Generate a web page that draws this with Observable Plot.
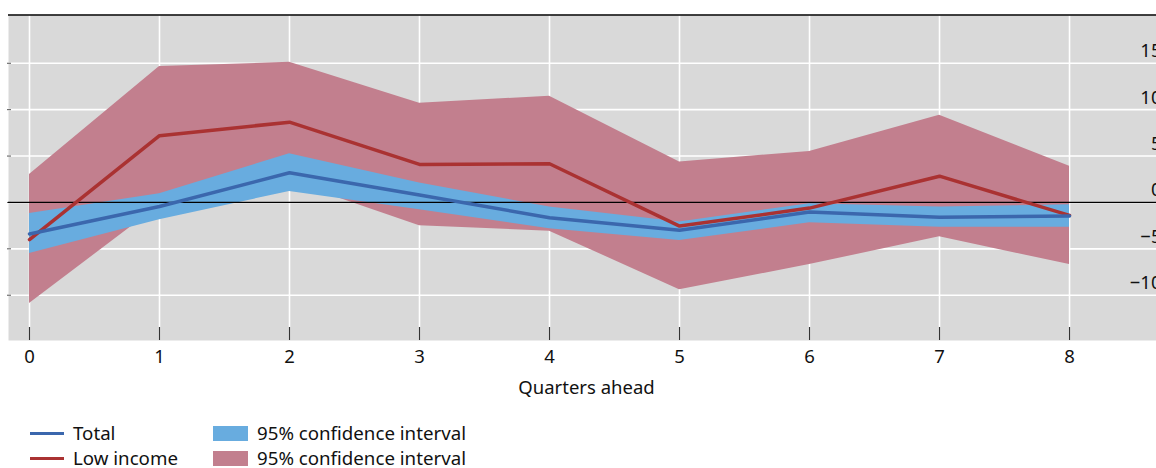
<!DOCTYPE html>
<html>
<head>
<meta charset="utf-8">
<script src="https://cdn.jsdelivr.net/npm/d3@7"></script>
<script src="https://cdn.jsdelivr.net/npm/@observablehq/plot@0.6"></script>
<style>
  html, body { margin: 0; padding: 0; background: #fff; overflow: hidden; }
  body { width: 1156px; height: 468px; font-family: "Noto Sans", "Open Sans", sans-serif; color: #111; }
  #chart svg { display: block; overflow: visible; }
  .legend { position: relative; padding-top: 9px; font-size: 18.7px; line-height: 1; }
  .legend .row { display: flex; align-items: center; height: 25px; }
  .legend .item { display: flex; align-items: center; }
  .legend .line { width: 34px; height: 3px; margin-left: 30px; margin-right: 9px; }
  .legend .box { width: 35px; height: 15px; margin-right: 9px; }
  .legend .col1 { width: 213px; }
</style>
</head>
<body>
<div id="chart"></div>
<div class="legend" id="legend"></div>
<script>
// Quarters ahead of the shock
const quarters = [0, 1, 2, 3, 4, 5, 6, 7, 8];

// Total: point estimate and 95% confidence band
const totalMid = [-3.4, -0.43, 3.2, 0.8, -1.65, -3.0, -1.04, -1.6, -1.45];
const totalLo  = [-5.5, -1.87, 1.18, -0.8, -2.84, -4.1, -2.2, -2.66, -2.66];
const totalHi  = [-1.2, 0.94, 5.25, 2.1, -0.5, -2.1, -0.14, -0.5, -0.25];

// Low income: point estimate and 95% confidence band
const lowMid = [-4.0, 7.2, 8.65, 4.1, 4.17, -2.55, -0.61, 2.83, -1.4];
const lowLo  = [-10.9, -0.3, 2.3, -2.5, -3.1, -9.4, -6.7, -3.7, -6.7];
const lowHi  = [3.0, 14.65, 15.1, 10.7, 11.45, 4.35, 5.5, 9.4, 3.9];

const yTicks = [-10, -5, 0, 5, 10, 15];
const xLabel = "Quarters ahead";

const colors = {
  totalLine: "#3b67ad",
  totalBand: "#68acdf",
  lowLine: "#aa3232",
  lowBand: "#c27f8e",
  panel: "#d9d9d9"
};

const total = quarters.map((q, i) => ({q, mid: totalMid[i], lo: totalLo[i], hi: totalHi[i]}));
const low = quarters.map((q, i) => ({q, mid: lowMid[i], lo: lowLo[i], hi: lowHi[i]}));

const yDomain = [-14.88, 20.15];
const fontFamily = '"Noto Sans", "Open Sans", sans-serif';

const chart = Plot.plot({
  width: 1156,
  height: 412,
  marginTop: 15,
  marginBottom: 72,
  marginLeft: 8,
  marginRight: 0,
  style: {fontFamily, fontSize: "18.5px", color: "#111", background: "transparent"},
  x: {domain: [-0.1615, 8.669], ticks: quarters},
  y: {domain: yDomain, ticks: yTicks},
  marks: [
    Plot.frame({fill: colors.panel, stroke: null}),
    Plot.gridX(quarters, {stroke: "#fff", strokeOpacity: 1, strokeWidth: 1.6}),
    Plot.gridY(yTicks, {stroke: "#fff", strokeOpacity: 1, strokeWidth: 1.6}),
    Plot.ruleY(yTicks, {stroke: "#555", insetLeft: -1, insetRight: 1145}),
    Plot.ruleX(quarters, {stroke: "#333", strokeWidth: 1.2, insetTop: 312}),
    Plot.areaY(low, {x: "q", y1: "lo", y2: "hi", fill: colors.lowBand}),
    Plot.areaY(total, {x: "q", y1: "lo", y2: "hi", fill: colors.totalBand}),
    Plot.ruleY([0], {stroke: "#000", strokeWidth: 1.2}),
    Plot.lineY(low, {x: "q", y: "mid", stroke: colors.lowLine, strokeWidth: 3.5}),
    Plot.lineY(total, {x: "q", y: "mid", stroke: colors.totalLine, strokeWidth: 3.5}),
    Plot.ruleY([yDomain[1]], {stroke: "#000", strokeWidth: 1.5, dy: -0.5}),
    Plot.axisX(quarters, {tickSize: 0, tickPadding: 9, tickFormat: d3.format("d"), label: null}),
    Plot.axisY(yTicks, {anchor: "right", tickSize: 0, tickPadding: 0, textAnchor: "end", dx: 5, dy: -12, label: null}),
    Plot.text([xLabel], {frameAnchor: "bottom", dy: 48, dx: 4, lineAnchor: "middle", fontSize: 18.5, fill: "#111"})
  ]
});
document.getElementById("chart").appendChild(chart);

// Legend: series lines in the first column, confidence bands in the second
const legendRows = [
  {label: "Total", line: colors.totalLine, band: colors.totalBand, bandLabel: "95% confidence interval"},
  {label: "Low income", line: colors.lowLine, band: colors.lowBand, bandLabel: "95% confidence interval"}
];
const legend = d3.select("#legend");
for (const r of legendRows) {
  const row = legend.append("div").attr("class", "row");
  const a = row.append("div").attr("class", "item col1");
  a.append("span").attr("class", "line").style("background", r.line);
  a.append("span").text(r.label);
  const b = row.append("div").attr("class", "item");
  b.append("span").attr("class", "box").style("background", r.band);
  b.append("span").text(r.bandLabel);
}
</script>
</body>
</html>
